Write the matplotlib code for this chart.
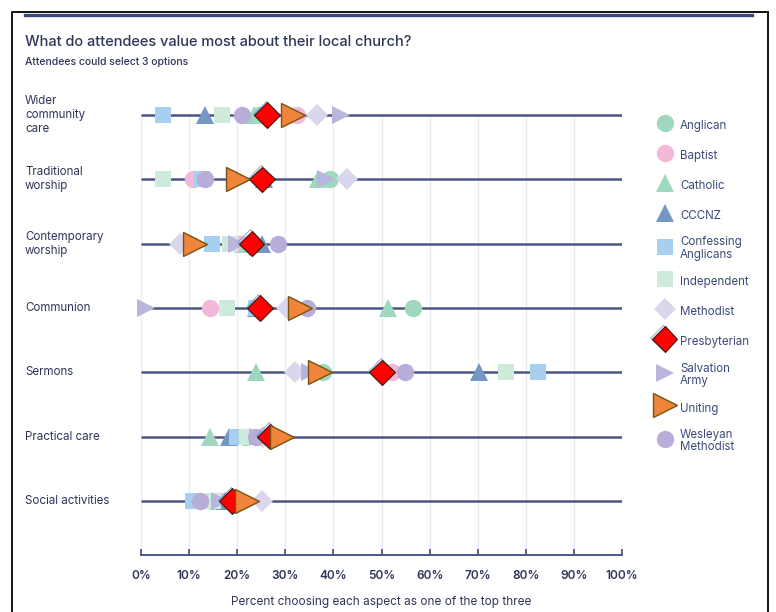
import matplotlib
matplotlib.use("Agg")
import matplotlib.pyplot as plt
from matplotlib.lines import Line2D
from matplotlib.patches import Rectangle
import matplotlib.patheffects as pe

plt.rcParams['font.family'] = ['Inter', 'DejaVu Sans']

aspects = ["Wider\ncommunity\ncare", "Traditional\nworship", "Contemporary\nworship",
           "Communion", "Sermons", "Practical care", "Social activities"]

anglican     = [24.5, 39.3, 20.0, 56.5, 37.8, 21.6, 15.5]
baptist      = [32.4, 10.8, 21.0, 14.3, 52.2, 25.0, 17.0]
catholic     = [23.5, 36.8, 22.0, 51.4, 23.9, 14.3, 16.0]
cccnz        = [13.3, 25.5, 25.2, 24.0, 70.3, 18.3, 17.5]
confessing   = [4.6, 12.7, 14.8, 24.0, 82.5, 19.9, 10.8]
independent  = [16.8, 4.6, 18.5, 17.8, 75.9, 22.0, 15.0]
methodist    = [36.6, 42.8, 8.1, 30.3, 32.0, 25.4, 25.2]
presbyterian = [26.2, 25.2, 23.0, 24.7, 50.1, 26.8, 18.9]
salvation    = [41.6, 38.5, 20.0, 1.0, 35.1, 24.3, 16.4]
uniting      = [31.6, 20.2, 11.2, 33.0, 37.2, 29.3, 22.0]
wesleyan     = [21.0, 13.3, 28.5, 34.5, 54.9, 24.0, 12.3]

xticks = [0, 10, 20, 30, 40, 50, 60, 70, 80, 90, 100]
xticklabels = [f"{t}%" for t in xticks]

NAVY = "#2e3558"
LEGTXT = "#3d4a78"
LINE = "#4b5782"
GRID = "#e9ecf4"

# name, values, marker, size, face, edge, edge width, zorder
series = [
    ("Anglican", anglican, "o", 12.5, "#9fd8bf", "none", 0, 3),
    ("Baptist", baptist, "o", 12.5, "#f2b8d8", "none", 0, 3),
    ("Catholic", catholic, "^", 12.5, "#9fd8bf", "none", 0, 3),
    ("CCCNZ", cccnz, "^", 12.5, "#7597c4", "none", 0, 3),
    ("Confessing\nAnglicans", confessing, "s", 12, "#a7d0f0", "none", 0, 3),
    ("Independent", independent, "s", 12, "#cdeadb", "none", 0, 3),
    ("Methodist", methodist, "D", 11, "#dad7ec", "none", 0, 3),
    ("Presbyterian", presbyterian, "D", 13, "#ff0000", "#3a1a10", 0.8, 5),
    ("Salvation\nArmy", salvation, ">", 12.5, "#bab5dd", "none", 0, 3),
    ("Uniting", uniting, ">", 17, "#f0843a", "#7a5212", 1.0, 6),
    ("Wesleyan\nMethodist", wesleyan, "o", 12.5, "#b8acd9", "none", 0, 3),
]

fig = plt.figure(figsize=(7.76, 6.12), dpi=100)
ax = fig.add_axes([141 / 776, (612 - 555) / 612, 481 / 776, 455 / 612])

n = len(aspects)
ypos = [n - 1 - i for i in range(n)]

ax.set_xlim(0, 100)
ax.set_ylim(-0.84, (n - 1) + 0.233)

# faint vertical guides
ax.vlines(xticks, -0.84, n - 1, color=GRID, lw=1, zorder=0)
# one line per aspect
ax.hlines(ypos, 0, 100, color=LINE, lw=1.8, zorder=1)

shadow = [pe.SimpleLineShadow(offset=(-1.0, 1.0), shadow_color="#6f8fc2", alpha=0.7), pe.Normal()]

handles = []
for name, vals, mk, ms, fc, ec, ew, z in series:
    kw = dict(linestyle="none", marker=mk, markersize=ms, markerfacecolor=fc,
              markeredgecolor=ec, markeredgewidth=ew)
    ln, = ax.plot(vals, ypos, zorder=z, clip_on=False, **kw)
    h = Line2D([], [], **kw)
    if name == "Presbyterian":
        ln.set_path_effects(shadow)
        h.set_path_effects(shadow)
    handles.append((h, name))

for s in ["top", "right", "left"]:
    ax.spines[s].set_visible(False)
ax.spines["bottom"].set_color(LINE)
ax.spines["bottom"].set_linewidth(1.4)

ax.set_xticks(xticks)
ax.set_xticklabels(xticklabels, fontweight="semibold")
ax.tick_params(axis="x", direction="in", length=4, width=1.3, color=LINE,
               labelcolor=NAVY, labelsize=8.5, pad=11)
ax.set_yticks(ypos)
ax.set_yticklabels([])
ax.tick_params(axis="y", length=0)
ax.set_xlabel("Percent choosing each aspect as one of the top three",
              color=NAVY, fontsize=8.5, labelpad=10)

# aspect names, left aligned
for lab, y in zip(aspects, ypos):
    ax.annotate(lab, xy=(0, y), xycoords=("figure fraction", "data"),
                xytext=(25, 0), textcoords="offset pixels",
                ha="left", va="center", fontsize=8.3, color=NAVY, linespacing=1.25)

leg = fig.legend([h for h, _ in handles], [l for _, l in handles],
                 loc="upper left", bbox_to_anchor=(653 / 776, 1 - 112 / 612),
                 frameon=False, fontsize=8.3, labelspacing=1.05, handleheight=2.0,
                 handletextpad=0.75, handlelength=1.2, borderaxespad=0,
                 labelcolor=LEGTXT)
for t in leg.get_texts():
    t.set_linespacing(1.05)

fig.text(25 / 776, 1 - 42 / 612, "What do attendees value most about their local church?",
         fontsize=10.5, color=NAVY, va="center", ha="left", fontweight="medium")
fig.text(25 / 776, 1 - 62 / 612, "Attendees could select 3 options",
         fontsize=7.5, color=NAVY, va="center", ha="left", fontweight="medium")

# panel frame and heading bar
fig.add_artist(Rectangle((12 / 776, -0.05), 756 / 776, 1.05 - 12 / 612,
                         transform=fig.transFigure, fill=False, ec="black", lw=1.3))
fig.add_artist(Line2D([25 / 776, 752 / 776], [1 - 15 / 612, 1 - 15 / 612],
                      transform=fig.transFigure, color="#3d4a78", lw=2.4))

fig.savefig("out.png", dpi=100, facecolor="white")
